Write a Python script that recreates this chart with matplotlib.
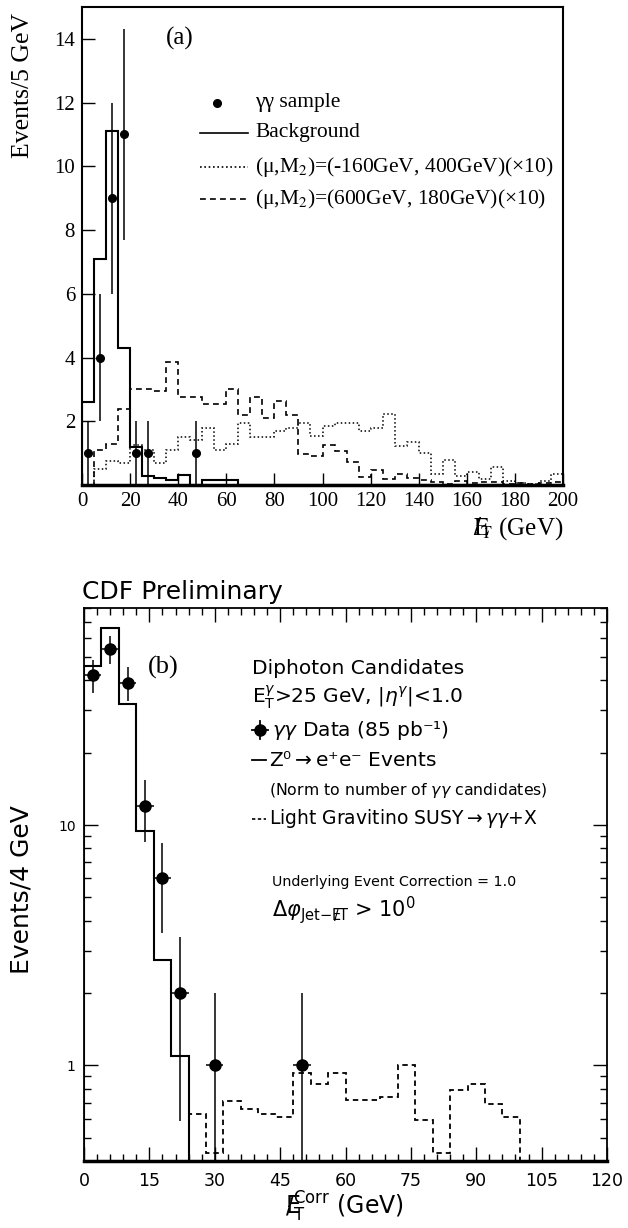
import matplotlib
matplotlib.use('Agg')
import numpy as np
import matplotlib.pyplot as plt
from matplotlib.lines import Line2D
from matplotlib.ticker import MultipleLocator, NullFormatter, LogLocator

# ---- panel (a): missing ET, 5 GeV bins, 0-200 GeV
edges_a = np.arange(0, 205, 5)
background = [2.6, 7.1, 11.1, 4.3, 1.2, 0.28, 0.22, 0.15, 0.3, 0.0,
              0.15, 0.15, 0.17, 0.0, 0.0, 0.0, 0.0, 0.0, 0.0, 0.0,
              0.0, 0.0, 0.0, 0.0, 0.0, 0.0, 0.0, 0.0, 0.0, 0.0,
              0.0, 0.0, 0.0, 0.0, 0.0, 0.0, 0.0, 0.0, 0.0, 0.0]
susy_dotted = [0.0, 0.5, 0.76, 0.7, 1.25, 1.1, 0.7, 1.1, 1.5, 1.4,
               1.8, 1.1, 1.3, 1.94, 1.5, 1.5, 1.68, 1.78, 1.94, 1.54,
               1.84, 1.94, 1.94, 1.69, 1.78, 2.22, 1.23, 1.34, 1.0, 0.34,
               0.8, 0.27, 0.4, 0.2, 0.55, 0.12, 0.05, 0.03, 0.12, 0.36]
susy_dashed = [0.0, 1.1, 1.3, 2.4, 3.0, 3.0, 2.95, 3.85, 2.75, 2.75,
               2.55, 2.55, 3.0, 2.2, 2.75, 2.1, 2.65, 2.2, 0.97, 0.9,
               1.25, 1.07, 0.72, 0.25, 0.48, 0.19, 0.34, 0.22, 0.15, 0.1,
               0.02, 0.12, 0.05, 0.1, 0.08, 0.03, 0.05, 0.03, 0.05, 0.08]
data_x_a = [2.5, 7.5, 12.5, 17.5, 22.5, 27.5, 47.5]
data_n_a = [1, 4, 9, 11, 1, 1, 1]

# ---- panel (b): missing ET corr, 4 GeV bins
z_edges = np.arange(0, 28, 4)
z_events = [46, 66, 32, 9.4, 2.74, 1.09]
grav_edges = np.arange(24, 104, 4)
grav_susy = [0.63, 0.43, 0.71, 0.66, 0.63, 0.61, 0.93, 0.84, 0.93, 0.715,
             0.715, 0.74, 1.0, 0.59, 0.43, 0.79, 0.84, 0.69, 0.61]
data_x_b = [2, 6, 10, 14, 18, 22, 30, 50]
data_n_b = [42, 54, 39, 12, 6, 2, 1, 1]

W, H = 628, 1228
SERIF = 'Liberation Serif'
SANS = 'DejaVu Sans'


def fx(px):
    return px / W


def fy(py):
    return 1 - py / H


fig = plt.figure(figsize=(W / 100, H / 100), dpi=100)

# ================= panel (a) =================
ax1 = fig.add_axes([fx(82), fy(485), (563 - 82) / W, (485 - 7) / H])
ax1.stairs(background, edges_a, color='k', lw=1.5)
ax1.stairs(susy_dotted, edges_a, color='k', lw=1.1, ls=(0, (1, 1.6)))
ax1.stairs(susy_dashed, edges_a, color='k', lw=1.2, ls=(0, (3.5, 2.5)))
ax1.errorbar(data_x_a, data_n_a, yerr=np.sqrt(data_n_a), fmt='o', color='k',
             ms=5.5, elinewidth=1.1, capsize=0)
ax1.set_xlim(0, 200)
ax1.set_ylim(0, 15)
ax1.set_xticks(np.arange(0, 201, 20))
ax1.set_yticks(np.arange(2, 15, 2))
ax1.tick_params(direction='in', length=9, width=1, labelsize=15, pad=5)
for lab in ax1.get_xticklabels() + ax1.get_yticklabels():
    lab.set_fontfamily(SERIF)
for s in ax1.spines.values():
    s.set_linewidth(1.5)
ax1.spines['bottom'].set_linewidth(2.5)

fig.text(fx(23), fy(85), 'Events/5 GeV', rotation=90, ha='center', va='center',
         family=SERIF, fontsize=18.5)
fig.text(fx(563), fy(529), r'$\mathrm{E}\!\!\!\!\!/_{\mathrm{T}}$ (GeV)', ha='right',
         va='center', family=SERIF, fontsize=18, math_fontfamily='stix')
fig.text(fx(166), fy(38), '(a)', ha='left', va='center', family=SERIF, fontsize=18)

# legend (a)
fig.add_artist(Line2D([fx(217)], [fy(103)], marker='o', ms=5.5, color='k',
                      transform=fig.transFigure))
for yy, ls in [(133, '-'), (167, (0, (1, 1.6))), (199, (0, (3.5, 2.5)))]:
    fig.add_artist(Line2D([fx(200), fx(248)], [fy(yy), fy(yy)], color='k', lw=1.2,
                          ls=ls, transform=fig.transFigure))
leg_a = [(103, 'γγ sample'),
         (133, 'Background'),
         (167, r'(μ,M$_2$)=(-160GeV, 400GeV)(×10)'),
         (199, r'(μ,M$_2$)=(600GeV, 180GeV)(×10)')]
for yy, t in leg_a:
    fig.text(fx(255), fy(yy), t, ha='left', va='center', family=SERIF, fontsize=15.5,
             math_fontfamily='stix')

# ================= panel (b) =================
ax2 = fig.add_axes([fx(84), fy(1161), (607 - 84) / W, (1161 - 608) / H])
ax2.set_yscale('log')
ax2.stairs(z_events, z_edges, baseline=1e-3, color='k', lw=1.5)
ax2.stairs(grav_susy, grav_edges, baseline=1e-3, color='k', lw=1.3,
           ls=(0, (3, 2.2)))
err_b = np.sqrt(data_n_b)
lo_b = np.minimum(err_b, np.array(data_n_b) - 1e-4)
ax2.errorbar(data_x_b, data_n_b, xerr=2, yerr=[lo_b, err_b], fmt='o', color='k',
             ms=8, elinewidth=1.1, capsize=0)
ax2.set_xlim(0, 120)
ax2.set_ylim(0.4, 80)
ax2.xaxis.set_major_locator(MultipleLocator(15))
ax2.xaxis.set_minor_locator(MultipleLocator(3))
ax2.yaxis.set_major_locator(LogLocator(base=10))
ax2.yaxis.set_minor_locator(LogLocator(base=10, subs=np.arange(2, 10)))
ax2.yaxis.set_minor_formatter(NullFormatter())
ax2.set_yticks([1, 10])
ax2.set_yticklabels(['1', '10'])
ax2.tick_params(which='both', direction='in', top=True, right=True, width=1)
ax2.tick_params(which='major', length=10)
ax2.tick_params(which='minor', length=5)
ax2.tick_params(axis='x', labelsize=12.5, pad=8)
ax2.tick_params(axis='y', labelsize=10, pad=6)
for lab in ax2.get_xticklabels() + ax2.get_yticklabels():
    lab.set_fontfamily(SANS)
for s in ax2.spines.values():
    s.set_linewidth(1.3)
ax2.spines['bottom'].set_linewidth(2.5)

fig.text(fx(82), fy(592), 'CDF Preliminary', ha='left', va='center', family=SANS,
         fontsize=18)
fig.text(fx(22), fy(890), 'Events/4 GeV', rotation=90, ha='center', va='center',
         family=SANS, fontsize=18)
fig.text(fx(345), fy(1207), r'$\mathrm{E}\!\!\!\!/_{\mathrm{T}}^{\mathrm{Corr}}$ (GeV)',
         ha='center', va='center', family=SANS, fontsize=17, math_fontfamily='dejavusans')
fig.text(fx(148), fy(667), '(b)', ha='left', va='center', family=SERIF, fontsize=19)

# legend (b)
tf = fig.transFigure
fig.add_artist(Line2D([fx(252), fx(268)], [fy(730), fy(730)], color='k', lw=1.3, transform=tf))
fig.add_artist(Line2D([fx(260), fx(260)], [fy(721), fy(739)], color='k', lw=1.3, transform=tf))
fig.add_artist(Line2D([fx(260)], [fy(730)], marker='o', ms=8, color='k', transform=tf))
fig.add_artist(Line2D([fx(252), fx(266)], [fy(760), fy(760)], color='k', lw=1.3, transform=tf))
fig.add_artist(Line2D([fx(252), fx(266)], [fy(819), fy(819)], color='k', lw=1.2,
                      ls=(0, (2, 1.5)), transform=tf))

txt_b = [(252, 668, 'Diphoton Candidates', 14.5),
         (252, 697, r'E$_{\mathrm{T}}^{\gamma}$>25 GeV, |$\eta^{\gamma}$|<1.0', 14.5),
         (272, 730, r'$\gamma\gamma$ Data (85 pb⁻¹)', 14.5),
         (269, 760, r'Z⁰$\rightarrow$e⁺e⁻ Events', 14.5),
         (269, 791, r'(Norm to number of $\gamma\gamma$ candidates)', 11.3),
         (269, 819, r'Light Gravitino SUSY$\rightarrow\gamma\gamma$+X', 13.5),
         (272, 882, 'Underlying Event Correction = 1.0', 10.3),
         (272, 910, r'$\Delta\varphi_{\mathrm{Jet{-}E\!\!\!/T}}$ > 10$^0$', 15)]
for xx, yy, t, fs in txt_b:
    fig.text(fx(xx), fy(yy), t, ha='left', va='center', family=SANS, fontsize=fs,
             math_fontfamily='dejavusans')

fig.savefig('out.png', dpi=100, facecolor='white')
